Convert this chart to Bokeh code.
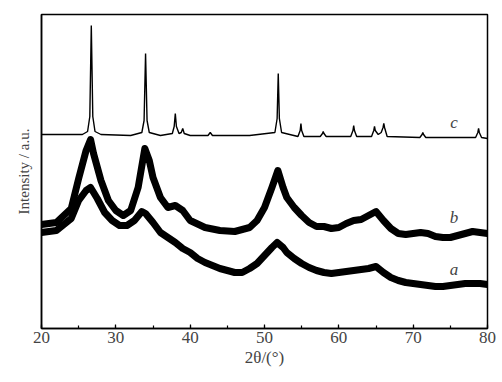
from bokeh.plotting import figure
from bokeh.models import Range1d, SingleIntervalTicker, FixedTicker, Label
from bokeh.embed import file_html
from bokeh.resources import INLINE

# ---- data (2theta in degrees, intensity in arbitrary units) ----
c_x = [20, 24, 25.5, 26.2, 26.5, 26.7, 26.9, 27.2, 28, 32, 33.5, 33.8, 34.0, 34.2, 34.5,
       36, 37.6, 37.85, 38.0, 38.15, 38.5, 38.8, 39.0, 39.2, 40, 42.4, 42.7, 43.0, 48,
       51.4, 51.7, 51.85, 52.0, 52.3, 54.5, 54.8, 54.9, 55.0, 55.3, 57.5, 57.8, 57.9, 58.0,
       58.3, 61.6, 61.9, 62.0, 62.1, 62.4, 64.4, 64.7, 64.8, 64.9, 65.3, 65.7, 65.95, 66.05,
       66.15, 66.5, 70.9, 71.2, 71.3, 71.4, 71.7, 78.4, 78.7, 78.8, 78.9, 79.2, 80]
c_y = [194, 194, 194, 197, 212, 303, 212, 197, 194, 193, 196, 208, 275, 208, 196,
       193, 195, 202, 215, 202, 195, 196, 200, 195, 193, 193, 196, 193, 193,
       196, 210, 255, 210, 196, 192, 198, 205, 198, 192, 192, 195, 197, 195,
       192, 192, 198, 203, 198, 192, 192, 198, 202, 198, 194, 196, 201, 205,
       201, 192, 191, 194, 196, 194, 191, 191, 196, 200, 196, 191, 190]

b_x = [20, 22, 24, 25, 26, 26.6, 27, 28, 29, 30, 31, 32, 33, 33.9, 34.5, 35, 36, 37, 38, 39,
       40, 42, 44, 46, 48, 49, 50, 51, 51.8, 52.5, 53, 54, 55, 56, 57, 58, 59, 60, 61, 62,
       63, 64, 65, 66, 67, 68, 69, 70, 71, 72, 73, 74, 75, 76, 77, 78, 79, 80]
b_y = [104, 106, 120, 150, 178, 189, 175, 148, 128, 118, 113, 118, 141, 180, 168, 151, 131, 121, 123, 118,
       108, 101, 98, 97, 101, 108, 121, 141, 158, 141, 131, 121, 113, 106, 102, 102, 100, 101, 105, 108,
       109, 113, 117, 108, 100, 95, 94, 95, 96, 95, 92, 91, 91, 93, 95, 97, 96, 95]

a_x = [20, 22, 24, 25, 26, 26.6, 27.5, 28.5, 29.5, 30.5, 31.5, 32.5, 33.5, 34, 35, 36, 37, 38, 39,
       40, 41, 42, 43, 44, 45, 46, 47, 48, 49, 50, 51, 51.7, 52.5, 53, 54, 55, 56, 57, 58, 59,
       60, 61, 62, 63, 64, 65, 66, 67, 68, 69, 70, 71, 72, 73, 74, 75, 76, 77, 78, 79, 80]
a_y = [96, 98, 110, 128, 138, 141, 130, 116, 108, 103, 103, 108, 117, 115, 106, 96, 91, 86, 80,
       76, 70, 66, 63, 60, 58, 56, 56, 60, 65, 73, 81, 86, 81, 76, 70, 65, 61, 58, 56, 55,
       56, 57, 58, 59, 60, 62, 56, 51, 48, 46, 45, 44, 43, 42, 42, 43, 44, 45, 45, 45, 44]

labels = ["a", "b", "c"]
label_x = [75.5, 75.5, 75.5]
label_y = [59, 111, 206]

SERIF = "Liberation Serif"

p = figure(width=502, height=382, output_backend="svg", toolbar_location=None,
           x_range=Range1d(20, 80), y_range=Range1d(0, 314),
           min_border_left=41, min_border_right=15, min_border_top=14, min_border_bottom=54)

p.line(c_x, c_y, line_color="black", line_width=1.4)
p.line(b_x, b_y, line_color="black", line_width=7, line_join="round")
p.line(a_x, a_y, line_color="black", line_width=7, line_join="round")

for t, lx, ly in zip(labels, label_x, label_y):
    p.add_layout(Label(x=lx, y=ly, text=t, text_font=SERIF, text_font_style="italic",
                       text_font_size="17px", text_align="center", text_baseline="middle"))

p.grid.visible = False
p.outline_line_color = "black"
p.outline_line_width = 1.5
p.background_fill_color = "white"
p.border_fill_color = "white"

xa = p.xaxis[0]
xa.ticker = SingleIntervalTicker(interval=10, num_minor_ticks=2)
xa.major_tick_in = 4
xa.major_tick_out = 0
xa.minor_tick_in = 3
xa.minor_tick_out = 0
xa.axis_line_width = 1.5
xa.major_tick_line_width = 1.2
xa.minor_tick_line_width = 1.2
xa.major_label_text_font = SERIF
xa.major_label_text_font_size = "17px"
xa.major_label_standoff = 3
xa.axis_label = "2θ/(°)"
xa.axis_label_text_font = SERIF
xa.axis_label_text_font_style = "normal"
xa.axis_label_text_font_size = "17px"
xa.axis_label_standoff = 2

ya = p.yaxis[0]
ya.ticker = FixedTicker(ticks=[])
ya.axis_line_width = 1.5
ya.major_tick_line_color = None
ya.minor_tick_line_color = None
ya.axis_label = "Intensity / a.u."
ya.axis_label_text_font = SERIF
ya.axis_label_text_font_style = "normal"
ya.axis_label_text_font_size = "15px"
ya.axis_label_standoff = 10

open("out.html", "w").write(file_html(p, INLINE))
